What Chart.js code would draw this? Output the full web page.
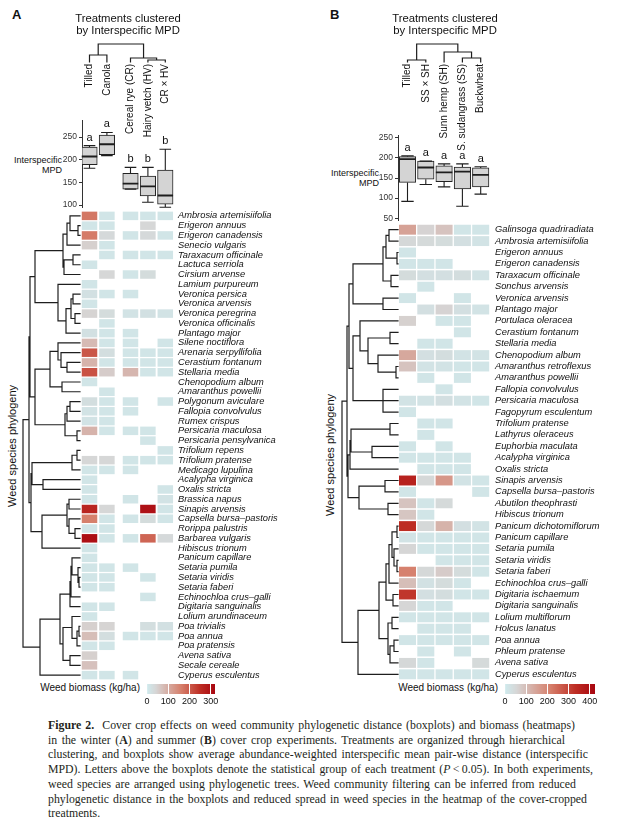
<!DOCTYPE html>
<html>
<head>
<meta charset="utf-8">
<title>Figure 2 – cover crops, weed phylogeny and biomass</title>
<script src="https://cdn.jsdelivr.net/npm/chart.js@4.4.1/dist/chart.umd.min.js"></script>
<style>
  html, body { margin: 0; padding: 0; }
  body { width: 625px; height: 828px; background: #fff; position: relative; overflow: hidden;
         font-family: "Liberation Sans", Arial, sans-serif; color: #111; }
  canvas, .t { position: absolute; }
  .t { white-space: nowrap; }
  .panel { font-weight: bold; font-size: 13px; line-height: 13px; }
  .phy { font-size: 11px; line-height: 11px; transform: translate(-50%, -50%) rotate(-90deg); }
  .mpd { font-size: 9px; line-height: 9.5px; text-align: right; }
  .leg { font-size: 10px; line-height: 10px; }
  .cap { position: absolute; left: 48px; top: 718px; font-family: "Liberation Serif", "Times New Roman", serif;
         font-size: 11.8px; line-height: 14.7px; color: #231f20; }
  .cap div { white-space: nowrap; }
</style>
</head>
<body>
<div class="t panel" style="left:12px;top:8px">A</div>
<div class="t panel" style="left:330px;top:8px">B</div>
<div class="t mpd" style="right:563px;top:156px">Interspecific<br>MPD</div>
<div class="t mpd" style="right:246px;top:169px">Interspecific<br>MPD</div>
<div class="t phy" style="left:12px;top:446px">Weed species phylogeny</div>
<div class="t phy" style="left:330px;top:455px">Weed species phylogeny</div>
<div class="t leg" style="right:485px;top:683px">Weed biomass (kg/ha)</div>
<div class="t leg" style="right:127px;top:683px">Weed biomass (kg/ha)</div>
<div class="cap">
  <div data-w="527"><b>Figure 2.</b>&nbsp; Cover crop effects on weed community phylogenetic distance (boxplots) and biomass (heatmaps)</div>
  <div data-w="517">in the winter (<b>A</b>) and summer (<b>B</b>) cover crop experiments. Treatments are organized through hierarchical</div>
  <div data-w="540">clustering, and boxplots show average abundance-weighted interspecific mean pair-wise distance (interspecific</div>
  <div data-w="545">MPD). Letters above the boxplots denote the statistical group of each treatment (<i>P</i>&thinsp;&lt;&thinsp;0.05). In both experiments,</div>
  <div data-w="528">weed species are arranged using phylogenetic trees. Weed community filtering can be inferred from reduced</div>
  <div data-w="539">phylogenetic distance in the boxplots and reduced spread in weed species in the heatmap of the cover-cropped</div>
  <div>treatments.</div>
</div>
<script>
// ---------- Panel A: winter cover crops ----------
const treatA = ["Tilled", "Canola", "Cereal rye (CR)", "Hairy vetch (HV)", "CR × HV"];
const lettersA = ["a", "a", "b", "b", "b"];
// interspecific MPD per treatment: [lower whisker, Q1, median, Q3, upper whisker]
const mpdA = [
  [181, 189, 207, 228, 231],
  [209, 211, 234, 254, 260],
  [135, 135, 147, 170, 183],
  [106, 120, 141, 164, 183],
  [95, 102, 121, 177, 223]
];
const mpdTicksA = [100, 150, 200, 250];
// treatment clustering: [merge height, ...children], leaves = treatment index
const clustA = [18, [7, 0, 1], [4, 2, [2, 3, 4]]];

const speciesA = ["Ambrosia artemisiifolia", "Erigeron annuus", "Erigeron canadensis", "Senecio vulgaris",
  "Taraxacum officinale", "Lactuca serriola", "Cirsium arvense", "Lamium purpureum", "Veronica persica",
  "Veronica arvensis", "Veronica peregrina", "Veronica officinalis", "Plantago major", "Silene noctiflora",
  "Arenaria serpyllifolia", "Cerastium fontanum", "Stellaria media", "Chenopodium album", "Amaranthus powellii",
  "Polygonum aviculare", "Fallopia convolvulus", "Rumex crispus", "Persicaria maculosa", "Persicaria pensylvanica",
  "Trifolium repens", "Trifolium pratense", "Medicago lupulina", "Acalypha virginica", "Oxalis stricta",
  "Brassica napus", "Sinapis arvensis", "Capsella bursa–pastoris", "Rorippa palustris", "Barbarea vulgaris",
  "Hibiscus trionum", "Panicum capillare", "Setaria pumila", "Setaria viridis", "Setaria faberi",
  "Echinochloa crus–galli", "Digitaria sanguinalis", "Lolium arundinaceum", "Poa trivialis", "Poa annua",
  "Poa pratensis", "Avena sativa", "Secale cereale", "Cyperus esculentus"];

// weed biomass (kg/ha), columns follow treatA, null = not found
const biomassA = [
  [170, 10, 10, 10, 10], [10, 10, null, 40, null], [165, 35, 10, 35, 10], [50, 10, null, null, null],
  [null, 10, 10, 10, 10], [10, null, null, null, null], [null, 40, 10, 30, null], [10, null, null, null, null],
  [20, 10, 10, null, null], [10, null, null, null, null], [45, 30, 15, 20, 15], [null, 10, null, null, null],
  [20, 10, 10, null, null], [80, 10, 10, null, 10], [205, 25, 10, 10, 10], [90, 10, 10, 10, 10],
  [210, 55, 85, 10, 10], [10, null, null, null, null], [null, 10, null, null, null], [25, 10, 10, null, 10],
  [15, 10, 10, null, null], [15, 10, null, null, null], [90, 10, 10, 10, null], [null, null, null, 10, null],
  [null, null, null, null, 10], [40, 40, 10, 10, 10], [10, 10, 10, null, null], [10, null, null, null, null],
  [10, null, null, null, 10], [10, null, 10, null, 15], [265, 40, null, 300, 10], [160, 10, 10, 30, 10],
  [10, 10, null, null, null], [305, 10, 10, 190, 35], [10, null, null, null, null], [10, null, null, null, null],
  [10, 10, 10, null, null], [10, 10, null, 10, null], [10, 10, null, null, null], [null, null, null, 10, null],
  [10, 10, null, null, null], [10, null, null, null, null], [50, 45, null, 25, 20], [75, 25, 10, 10, 10],
  [10, 10, null, null, null], [50, null, null, null, null], [70, null, null, null, null], [10, 10, 10, null, null]
];
const biomassTicksA = [0, 100, 200, 300];
const biomassMaxA = 320;

// phylogeny: [node height above tips, ...children], leaves = species row
const asterA = [17, [13, [10, 0, [2, 1, 2]], 3], [16, [7, 4, 5], 6]];
const lamA = [22, 7, [14, [9, [7, 8, 9], [5, 10, 11]], 12]];
const caryoA = [45, [30, [22, 13, [19, 14, [13, 15, 16]]], [18, 17, 18]], [15, [13, [10, 19, 20], 21], [3, 22, 23]]];
const rosidA = [49, [48, [8, [3, 24, 25], 26], [37, 27, 28]], [38, [13, [11, 29, 30], [11, 31, [5, 32, 33]]], 34]];
const grassA = [20, [10, [9, [8, 35, [2, 36, [1, 37, 38]]], 39], 40], [17, [8, 41, [3, [1, 42, 43], 44]], [10, 45, 46]]];
const phyloA = [57, [51, [50, [45, asterA, lamA], caryoA], rosidA], [40, grassA, 47]];

// ---------- Panel B: summer cover crops ----------
const treatB = ["Tilled", "SS × SH", "Sunn hemp (SH)", "S. sudangrass (SS)", "Buckwheat"];
const lettersB = ["a", "a", "a", "a", "a"];
const mpdB = [
  [92, 139, 197, 203, 205],
  [134, 147, 176, 192, 192],
  [128, 141, 164, 180, 185],
  [80, 123, 166, 177, 185],
  [110, 128, 158, 175, 178]
];
const mpdTicksB = [50, 100, 150, 200, 250];
const clustB = [18, [2, 0, 1], [10, 2, [4, 3, 4]]];

const speciesB = ["Galinsoga quadriradiata", "Ambrosia artemisiifolia", "Erigeron annuus", "Erigeron canadensis",
  "Taraxacum officinale", "Sonchus arvensis", "Veronica arvensis", "Plantago major", "Portulaca oleracea",
  "Cerastium fontanum", "Stellaria media", "Chenopodium album", "Amaranthus retroflexus", "Amaranthus powellii",
  "Fallopia convolvulus", "Persicaria maculosa", "Fagopyrum esculentum", "Trifolium pratense", "Lathyrus oleraceus",
  "Euphorbia maculata", "Acalypha virginica", "Oxalis stricta", "Sinapis arvensis", "Capsella bursa–pastoris",
  "Abutilon theophrasti", "Hibiscus trionum", "Panicum dichotomiflorum", "Panicum capillare", "Setaria pumila",
  "Setaria viridis", "Setaria faberi", "Echinochloa crus–galli", "Digitaria ischaemum", "Digitaria sanguinalis",
  "Lolium multiflorum", "Holcus lanatus", "Poa annua", "Phleum pratense", "Avena sativa", "Cyperus esculentus"];

const biomassB = [
  [150, 60, 90, 15, 15], [50, 45, 40, 30, 20], [15, null, null, null, null], [15, 15, 15, null, null],
  [40, 30, 30, 35, 20], [null, 15, null, null, null], [15, null, null, 15, null], [null, 30, 60, 30, 20],
  [65, null, 15, 15, null], [null, null, null, 15, null], [null, 15, 15, null, null], [140, 30, 35, 20, 20],
  [90, 20, 20, 15, 15], [null, 15, null, 15, null], [null, null, 15, null, null], [20, 20, 30, 20, 15],
  [15, null, null, null, null], [null, 15, 15, null, null], [null, 15, null, null, null], [15, null, 15, null, null],
  [15, 15, 15, 15, null], [null, 15, 15, 15, null], [360, 50, 170, 20, 15], [15, null, null, null, 15],
  [90, 15, 45, null, null], [85, 15, null, null, null], [335, 50, 120, 30, 20], [20, 15, 15, 15, 15],
  [55, 15, 15, 15, 15], [null, null, 15, 15, 15], [210, 50, 75, 40, 15], [100, 25, 40, 15, null],
  [320, 30, 35, 15, 15], [55, 15, 15, null, null], [15, 15, 15, 15, 15], [null, 15, 15, 15, null],
  [15, 15, 15, 15, 15], [null, 15, null, 15, null], [50, 15, null, null, 45], [15, 15, 15, 15, 15]
];
const biomassTicksB = [0, 100, 200, 300, 400];
const biomassMaxB = 425;

const asterB = [45, [15, [12, [9, 0, 1], [1, 2, 3]], [7, 4, 5]], [15, 6, 7]];
const caryoB = [45, [38, 8, [30, [8, 9, 10], [20, 11, [2, 12, 13]]]], [15, 14, 15, 16]];
const rosidB = [50, [48, [47, [8, 17, 18], [26, 19, 20]], 21], [39, [13, 22, 23], [10, 24, 25]]];
const grassB = [19, [12, [9, [6, [1, 26, 27], [4, 28, [1, 29, 30]]], 31], [5, 32, 33]], [10, [6, 34, 35], [8, [4, 36, 37], 38]]];
const phyloB = [56, [51, [49, asterB, caryoB], rosidB], [40, grassB, 39]];

// ---------- styling / layout ----------
Chart.defaults.font.family = "'Liberation Sans', Arial, sans-serif";
Chart.defaults.color = "#111";
Chart.defaults.animation = false;
Chart.defaults.responsive = false;
Chart.defaults.devicePixelRatio = 1;
Chart.defaults.events = [];
Chart.defaults.plugins.legend.display = false;
Chart.defaults.plugins.tooltip.enabled = false;

// column centres in page pixels (panel A has a gap between its two clusters)
const colsA = treatA.map((_, i) => 89.5 + 17.4 * i + (i > 1 ? 6.2 : 0));
const colsB = treatB.map((_, i) => 407.5 + 18.3 * i);

const heatStops = [[0, [207, 234, 237]], [0.13, [214, 214, 214]], [0.5, [214, 128, 108]], [0.78, [190, 46, 36]], [1, [168, 6, 16]]];
function heatColor(v, max) {
  const t = Math.min(v / max, 1);
  for (let k = 1; k < heatStops.length; k++) {
    const [t1, c1] = heatStops[k];
    if (t <= t1) {
      const [t0, c0] = heatStops[k - 1];
      const f = (t - t0) / (t1 - t0);
      return "rgb(" + c0.map((c, j) => Math.round(c + (c1[j] - c) * f)).join(",") + ")";
    }
  }
}

function canvasAt(left, top, w, h) {
  const c = document.createElement("canvas");
  c.width = w; c.height = h;
  Object.assign(c.style, { left: left + "px", top: top + "px", width: w + "px", height: h + "px" });
  document.body.appendChild(c);
  return c.getContext("2d");
}

// fixed axis size, no extra label padding so chart areas land where wanted
const fixAxis = size => s => {
  if (s.isHorizontal()) s.height = size; else s.width = size;
  s.paddingTop = s.paddingBottom = s.paddingLeft = s.paddingRight = 0;
};

// rectangular tree -> segments in (position, height) space
function treeLines(node, leafPos, segs) {
  if (typeof node === "number") return [leafPos(node), 0];
  const [h, ...kids] = node;
  const pts = kids.map(k => treeLines(k, leafPos, segs));
  const ps = pts.map(p => p[0]);
  const lo = Math.min(...ps), hi = Math.max(...ps);
  segs.push([[lo, h], [hi, h]]);
  pts.forEach(([p, ch]) => segs.push([[p, h], [p, ch]]));
  return [(lo + hi) / 2, h];
}

const lineSet = (segs, horizontal, extra) => Object.assign({
  type: "line",
  data: segs.flatMap(([a, b]) => horizontal
    ? [{ x: a[1], y: a[0] }, { x: b[1], y: b[0] }, { x: null, y: null }]
    : [{ x: a[0], y: a[1] }, { x: b[0], y: b[1] }, { x: null, y: null }]),
  borderColor: "#1e1e1e", borderWidth: 1.2, pointRadius: 0, borderCapStyle: "square",
  spanGaps: false, clip: false
}, extra);

function clusterChart(left, width, tree, cols, labels) {
  const segs = [];
  treeLines(tree, i => cols[i], segs);
  new Chart(canvasAt(left, 0, width, 152), {
    type: "line",
    data: { datasets: [lineSet(segs, false)] },
    options: {
      plugins: {
        title: {
          display: true, text: ["Treatments clustered", "by Interspecific MPD"], color: "#111",
          font: { size: 11.3, weight: "normal", lineHeight: 1.062 }, padding: { top: 13, bottom: 7 }
        }
      },
      scales: {
        x: {
          type: "linear", offset: false, min: left, max: left + width,
          afterBuildTicks: s => { s.ticks = cols.map(v => ({ value: v })); },
          afterFit: fixAxis(90),
          grid: { display: false, drawTicks: false }, border: { display: false },
          ticks: { autoSkip: false, minRotation: 90, maxRotation: 90, padding: 2, color: "#111",
                   font: { size: 10 }, callback: (v, i) => labels[i] }
        },
        y: { type: "linear", min: 0, max: 18, display: false }
      }
    }
  });
}

function boxChart(left, top, areaTop, areaBottom, areaRight, axisW, stats, cols, boxW, letters, yMin, yMax, yTicks) {
  const capW = boxW * 0.75;
  const whisk = [], meds = [];
  stats.forEach(([lo, q1, md, q3, hi], i) => {
    const c = cols[i];
    whisk.push([[c, hi], [c, q3]], [[c, q1], [c, lo]],
               [[c - capW / 2, hi], [c + capW / 2, hi]], [[c - capW / 2, lo], [c + capW / 2, lo]]);
    meds.push([[c - boxW / 2, md], [c + boxW / 2, md]]);
  });
  const letterPlugin = {
    id: "groupLetters",
    afterDatasetsDraw(chart) {
      const { ctx, scales: { x, y } } = chart;
      ctx.save();
      ctx.font = "11px 'Liberation Sans', Arial, sans-serif";
      ctx.fillStyle = "#111"; ctx.textAlign = "center"; ctx.textBaseline = "middle";
      letters.forEach((t, i) => ctx.fillText(t, x.getPixelForValue(cols[i]), y.getPixelForValue(stats[i][4]) - 8));
      ctx.restore();
    }
  };
  new Chart(canvasAt(left, top, areaRight - left, areaBottom - top + 2), {
    type: "bar",
    data: {
      datasets: [
        lineSet(meds, false, { borderWidth: 1.8, borderCapStyle: "butt" }),
        lineSet(whisk, false, { borderWidth: 1.1, borderCapStyle: "butt" }),
        { type: "bar", data: stats.map((s, i) => ({ x: cols[i], y: [s[1], s[3]] })),
          backgroundColor: "#d4d4d4", borderColor: "#222", borderWidth: 1, borderSkipped: false, barThickness: boxW }
      ]
    },
    options: {
      layout: { padding: { top: areaTop - top, bottom: 2 } },
      scales: {
        x: { type: "linear", offset: false, min: left + axisW, max: areaRight, display: false },
        y: {
          type: "linear", min: yMin, max: yMax,
          afterBuildTicks: s => { s.ticks = yTicks.map(v => ({ value: v })); },
          afterFit: fixAxis(axisW),
          grid: { drawOnChartArea: false, drawTicks: true, tickLength: 3, color: "#333" },
          border: { color: "#333", width: 1 },
          ticks: { padding: 2, color: "#333", font: { size: 8.5 } }
        }
      }
    },
    plugins: [letterPlugin]
  });
}

function heatChart(left, top, height, areaRight, axisW, tipX, species, biomass, cols, cellW, tree, maxV, labelPad) {
  const segs = [];
  treeLines(tree, i => i, segs);
  const cells = cols.map((c, j) => ({
    type: "bar", indexAxis: "y", xAxisID: "x", yAxisID: "y", grouped: false,
    barPercentage: 0.87, categoryPercentage: 1, borderWidth: 0,
    data: biomass.map(r => r[j] == null ? null : [c - cellW / 2, c + cellW / 2]),
    backgroundColor: biomass.map(r => r[j] == null ? "rgba(0,0,0,0)" : heatColor(r[j], maxV))
  }));
  new Chart(canvasAt(left, top, areaRight - left + axisW, height), {
    type: "bar",
    data: { labels: species, datasets: [...cells, lineSet(segs, true, { xAxisID: "xt", yAxisID: "yt" })] },
    options: {
      scales: {
        x: { type: "linear", offset: false, min: left, max: areaRight, display: false },
        xt: { type: "linear", offset: false, reverse: true, min: tipX - areaRight, max: tipX - left, display: false },
        y: {
          type: "category", position: "right", offset: true, afterFit: fixAxis(axisW),
          grid: { display: false, drawTicks: false }, border: { display: false },
          ticks: { autoSkip: false, padding: labelPad, color: "#111", font: { size: 9.3, style: "italic" } }
        },
        yt: { type: "linear", offset: false, reverse: true, min: -0.5, max: species.length - 0.5, display: false }
      }
    }
  });
}

function legendChart(left, top, width, maxV, ticks) {
  const pad = 12;
  new Chart(canvasAt(left - pad, top, width + 2 * pad, 23), {
    type: "bar",
    data: {
      labels: [""],
      datasets: [{
        data: [[0, maxV]], borderWidth: 0, barPercentage: 1, categoryPercentage: 1,
        backgroundColor: ctx => {
          const a = ctx.chart.chartArea;
          if (!a) return "#ccc";
          const g = ctx.chart.ctx.createLinearGradient(a.left, 0, a.right, 0);
          heatStops.forEach(([t, c]) => g.addColorStop(t, "rgb(" + c.join(",") + ")"));
          return g;
        }
      }]
    },
    options: {
      indexAxis: "y",
      layout: { padding: { left: pad, right: pad } },
      scales: {
        x: {
          type: "linear", min: 0, max: maxV,
          afterBuildTicks: s => { s.ticks = ticks.map(v => ({ value: v })); },
          afterFit: fixAxis(13),
          grid: { z: 1, drawTicks: false, color: c => c.tick && c.tick.value > 0 ? "#fff" : "rgba(0,0,0,0)" },
          border: { display: false },
          ticks: { padding: 2, color: "#111", font: { size: 9 } }
        },
        y: { display: false }
      }
    }
  });
}

// ---------- draw ----------
clusterChart(60, 136, clustA, colsA, treatA);
clusterChart(380, 130, clustB, colsB, treatB);
boxChart(56, 112, 120, 207, 176, 26, mpdA, colsA, 15.5, lettersA, 95.6, 287.5, mpdTicksA);
boxChart(374, 127, 135, 220, 494, 24, mpdB, colsB, 16.5, lettersB, 45.8, 256.7, mpdTicksB);
heatChart(15, 211, 469, 174, 128, 80, speciesA, biomassA, colsA, 15.5, phyloA, biomassMaxA, 4);
heatChart(335, 224, 456, 490, 135, 398, speciesB, biomassB, colsB, 17, phyloB, biomassMaxB, 5);
legendChart(147, 684, 68, biomassMaxA, biomassTicksA);
legendChart(505, 684, 90, biomassMaxB, biomassTicksB);

// caption: stretch or squeeze each line to the measured width of the original
document.querySelectorAll(".cap div[data-w]").forEach(d => {
  const span = document.createElement("span");
  while (d.firstChild) span.appendChild(d.firstChild);
  d.appendChild(span);
  const w = span.getBoundingClientRect().width;
  const diff = +d.dataset.w - w;
  const txt = span.textContent;
  const spaces = (txt.match(/[ \u00a0]/g) || []).length;
  if (diff >= 0) d.style.wordSpacing = (diff / spaces) + "px";
  else d.style.letterSpacing = (diff / txt.length) + "px";
});
</script>
</body>
</html>
